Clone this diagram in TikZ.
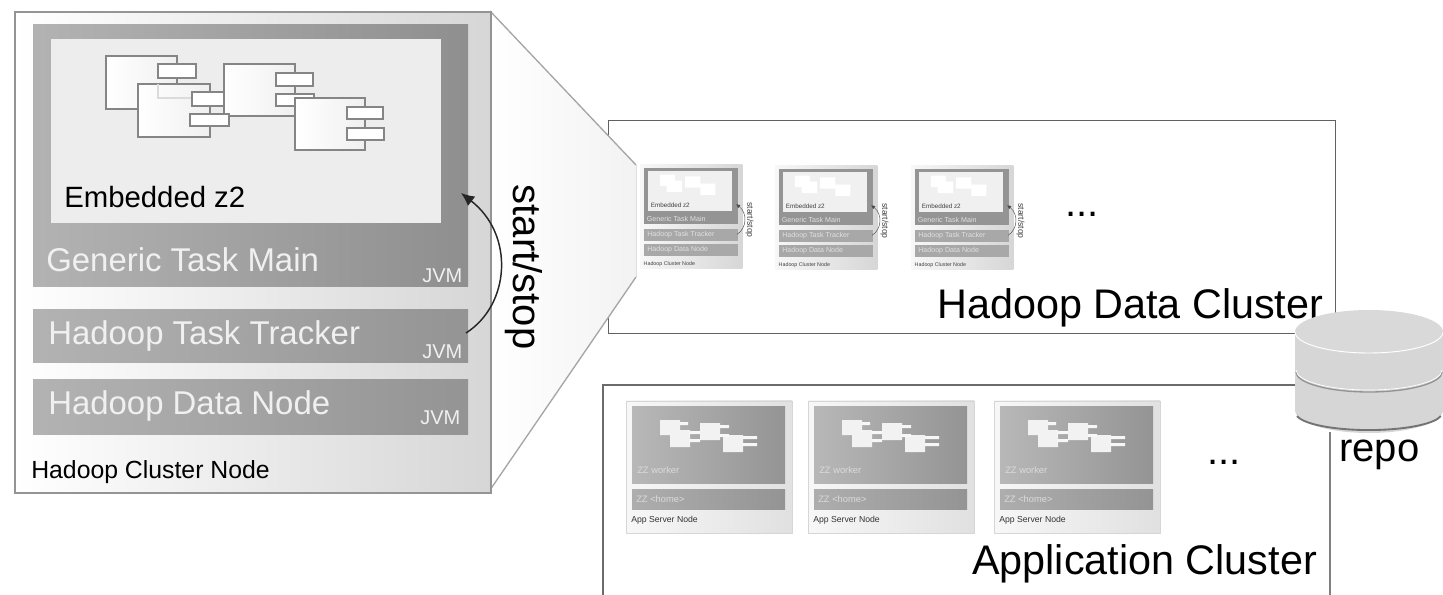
\documentclass[tikz,border=0pt]{standalone}
\usepackage{fontspec}
\setmainfont{Liberation Sans}
\usetikzlibrary{arrows.meta}
\colorlet{D0}{black!16}
\colorlet{F0}{black!6}
\colorlet{G7}{black!48}
\colorlet{G5}{black!62}
\colorlet{EE}{black!6}
\tikzset{
  x=0.75pt,y=-0.75pt,
  outerbox/.style={draw=black!42,line width=1.3pt,left color=white,right color=D0},
  comp/.style={draw=G7,line width=0.8pt,left color=white,right color=F0},
  portbox/.style={draw=G7,line width=0.9pt,fill=white},
  cluster/.style={draw=G5,line width=1pt},
  lbl/.style={inner sep=0pt,anchor=west,font=\fontsize{#1}{#1}\selectfont},
  wlbl/.style={lbl=#1,text=EE},
  tl/.style={inner sep=0pt,anchor=west,scale=.215,text=#1},
  tf/.style={font=\fontsize{#1}{#1}\selectfont},
}
\newcommand{\compcluster}{%
  \draw[comp] (106,56) rectangle (177,109);
  \draw[portbox] (158,64) rectangle (196,78);
  \draw[comp] (224,64) rectangle (295,116);
  \draw[portbox] (276,73) rectangle (313,86);
  \draw[portbox] (276,94) rectangle (314,106);
  \draw[comp] (138,84) rectangle (210,137);
  \draw[black!14,line width=.8pt] (158,84) -- (158,98) -- (192,98);
  \draw[portbox] (192,92) rectangle (224,106);
  \draw[portbox] (190,114) rectangle (229,126);
  \draw[comp] (295,98) rectangle (365,150);
  \draw[portbox] (347,107) rectangle (383,119);
  \draw[portbox] (347,128) rectangle (384,140);
}
\newcommand{\hadoopthumb}[2]{%
\begin{scope}[shift={(#1,#2)},x=0.1613pt,y=-0.1613pt]
  \begin{scope}[shift={(-14,-11)}]
  \fill[left color=black!3,right color=black!16] (14,11) rectangle (490,492);
  \fill[black!42] (33,25) rectangle (468,287);
  \fill[black!6] (51,39) rectangle (441,223);
  \fill[white] (106,56) rectangle (177,109) (138,84) rectangle (210,137) (224,64) rectangle (295,116) (295,98) rectangle (365,150);
  \fill[black!34] (33,310) rectangle (468,363);
  \fill[black!34] (33,380) rectangle (468,434);
  \node[tl=black!75,tf=22] at (64,197) {Embedded z2};
  \node[tl=black!12,tf=24.7] at (46,260) {Generic Task Main};
  \node[tl=black!12,tf=24.7] at (48,336) {Hadoop Task Tracker};
  \node[tl=black!12,tf=24.7] at (48,406) {Hadoop Data Node};
  \node[tl=black!75,tf=18.6] at (31,471) {Hadoop Cluster Node};
  \draw[black!70,line width=.35pt,-{Latex[length=3pt,width=3pt]}] (466,333) .. controls (510,305) and (515,235) .. (461,193);
  \node[rotate=-90,inner sep=0pt,scale=.215,text=black!75,tf=30] at (524,267) {start/stop};
  \end{scope}
\end{scope}}
\newcommand{\appthumb}[2]{%
\begin{scope}[shift={(#1,#2)}]
  \fill[left color=black!3,right color=black!12] (0,0) rectangle (166,132);
  \draw[black!16,line width=.5pt] (0,0) rectangle (166,132);
  \fill[left color=black!28,right color=black!42] (6,6) rectangle (159,82);
  \fill[left color=black!32,right color=black!42] (6,88) rectangle (159,108);
  \fill[black!5] (34,19) rectangle (54,34) (44,29) rectangle (64,46) (74,22) rectangle (94,39) (97,34) rectangle (117,51);
  \fill[black!3] (54,21) rectangle (62,24) (64,30) rectangle (74,33) (64,38) rectangle (74,41) (94,24) rectangle (103,27) (94,33) rectangle (103,36) (117,35) rectangle (131,38) (117,42) rectangle (131,45);
  \node[inner sep=0pt,anchor=west,text=black!14,font=\fontsize{7}{7}\selectfont] at (11,69) {ZZ worker};
  \node[inner sep=0pt,anchor=west,text=black!14,font=\fontsize{7}{7}\selectfont] at (10,98) {ZZ \textless home\textgreater};
  \node[inner sep=0pt,anchor=west,text=black!80,font=\fontsize{6.5}{6.5}\selectfont] at (5,119) {App Server Node};
\end{scope}}
\begin{document}
\begin{tikzpicture}
\useasboundingbox (0,0) rectangle (1443,595);
% clusters
\node[cluster,minimum width=545.25pt,minimum height=159.75pt,inner sep=0pt,anchor=north west] (hdc) at (608,120) {};
\draw[draw=black!58,line width=1pt] (1295,385) -- (603,385) -- (603,595);
\draw[draw=black!50,line width=1pt] (1330,432) -- (1330,595);
% zoom wedge
\fill[left color=white,right color=black!5] (490,11) -- (636,165) -- (636,277) -- (490,490) -- cycle;
\draw[black!35,line width=1pt] (490,11) -- (636,165) (490,490) -- (636,277);
% big node
\node[outerbox,minimum width=357pt,minimum height=360.75pt,inner sep=0pt,anchor=north west] (hcn) at (14,11) {};
\fill[left color=black!30,right color=black!44] (33,25) rectangle (468,287);
\node[fill=black!7,minimum width=292.5pt,minimum height=138pt,inner sep=0pt,anchor=north west] (emb) at (51,39) {};
\compcluster
\node[lbl=22] (embl) at (64,197) {Embedded z2};
\node[wlbl=24.7] (gtm) at (46,260) {Generic Task Main};
\node[wlbl=15] (j1) at (422,276) {JVM};
\fill[left color=black!30,right color=black!42] (33,310) rectangle (468,363);
\coordinate (ttr) at (466,333);
\node[wlbl=24.7] (htt) at (48,336) {Hadoop Task Tracker};
\node[wlbl=15] (j2) at (422,352) {JVM};
\fill[left color=black!30,right color=black!42] (33,380) rectangle (468,434);
\node[wlbl=24.7] (hdn) at (48,406) {Hadoop Data Node};
\node[wlbl=15] (j3) at (420,418) {JVM};
\node[lbl=18.6] (hcl) at (31,472) {Hadoop Cluster Node};
\coordinate (embt) at (461,193);
\draw[black!85,line width=1.1pt,-{Latex[length=10pt,width=9pt]}] (ttr) .. controls (510,305) and (515,235) .. (embt);
\node[rotate=-90,inner sep=0pt,font=\fontsize{30}{30}\selectfont] (ss) at (524,267) {start/stop};
% thumbnails
\hadoopthumb{640}{165}
\hadoopthumb{775}{166}
\hadoopthumb{911}{166}
\node[inner sep=0pt,font=\fontsize{30}{30}\selectfont] (d1) at (1082,214) {...};
\node[lbl=31] (hdl) at (937,308) {Hadoop Data Cluster};
\appthumb{626}{401}
\appthumb{808}{401}
\appthumb{994}{401}
\node[inner sep=0pt,font=\fontsize{30}{30}\selectfont] (d2) at (1224,462) {...};
\node[lbl=31] (acl) at (972,564) {Application Cluster};
% repo
\fill[black!16] (1295,332) -- (1295,410) arc[start angle=180,end angle=0,x radius=74,y radius=23] -- (1443,332) -- cycle;
\draw[black!55,line width=1.4pt] (1297,416) arc[start angle=170,end angle=10,x radius=73,y radius=17];
\fill[black!15] (1369,332) ellipse[x radius=74,y radius=22];
\draw[white,line width=.7pt] (1295,332) arc[start angle=180,end angle=0,x radius=74,y radius=21];
\draw[black!42,line width=1pt] (1296,372) arc[start angle=180,end angle=0,x radius=73,y radius=20];
\draw[white,line width=.5pt] (1296,370) arc[start angle=180,end angle=0,x radius=73,y radius=20];
\node[lbl=30] (repo) at (1339,455) {repo};
\end{tikzpicture}
\end{document}
